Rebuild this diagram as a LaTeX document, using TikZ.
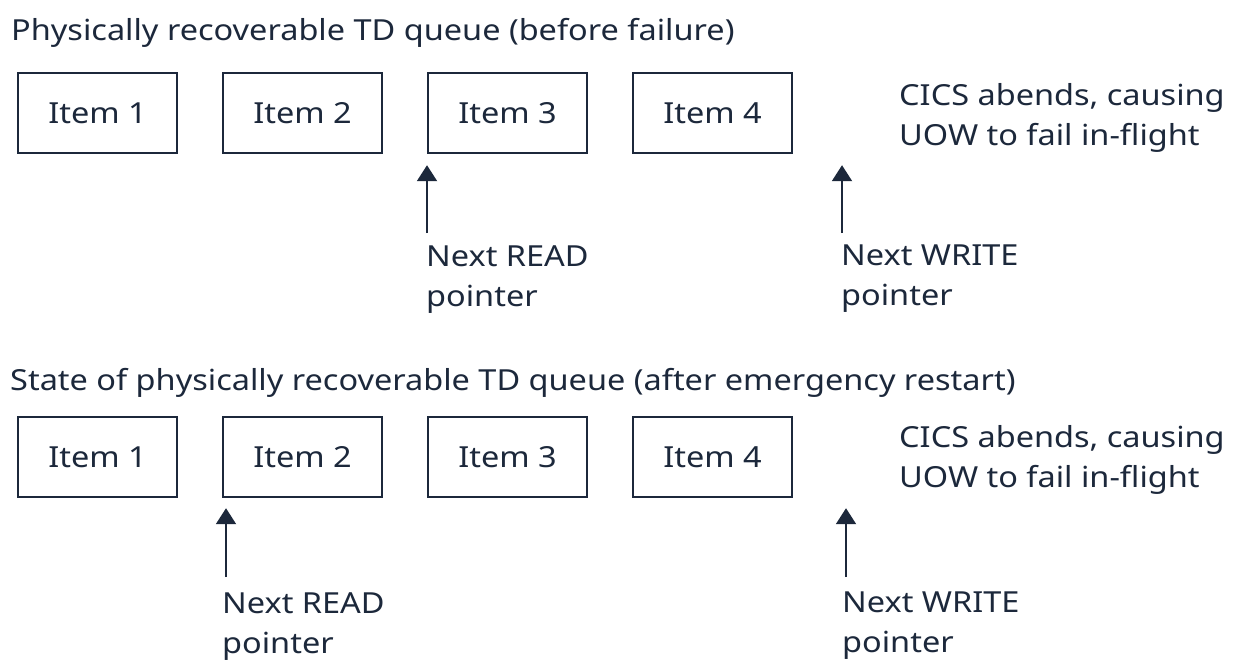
\documentclass[tikz,border=0pt]{standalone}
\usepackage{fontspec}
\setmainfont[FakeStretch=1.12]{Noto Sans}
\usetikzlibrary{arrows.meta,positioning}
\definecolor{ink}{RGB}{28,40,59}

\begin{document}
\begin{tikzpicture}[x=1pt,y=-1pt,
  item/.style={draw=ink,line width=2.4pt,minimum width=159pt,minimum height=80pt,text=ink,font=\fontsize{29}{40}\selectfont},
  note/.style={anchor=north west,inner sep=0pt,align=left,text=ink,font=\fontsize{29}{40}\selectfont},
  heading/.style={anchor=north west,inner sep=0pt,text=ink,font=\fontsize{29}{40}\selectfont},
  ptr/.style={draw=ink,line width=2pt,-{Triangle[width=20pt,length=16pt]},shorten <=12pt,shorten >=11pt}]

\useasboundingbox (0,0) rectangle (1246,662);

% before failure
\node[heading] (head1) at (11,18) {Physically recoverable TD queue (before failure)};

\foreach \x in {1,...,4}
{
  \node[item] (top\x) at ({97.5+205*(\x-1)}, 113) {Item \x};
}

\node[note] (crash1) at (899,83) {CICS abends, causing\\UOW to fail in-flight};
\node[note] (read1) at (426,245) {Next READ\\pointer};
\node[note] (write1) at (841,245) {Next WRITE\\pointer};

\draw[ptr] ([xshift=1pt]read1.north west) -- ([xshift=1pt]read1.north west |- top3.south);
\draw[ptr] ([xshift=1pt]write1.north west) -- ([xshift=1pt]write1.north west |- top4.south);

% after emergency restart
\node[heading] (head2) at (10,368) {State of physically recoverable TD queue (after emergency restart)};

\foreach \x in {1,...,4}
{
  \node[item] (bot\x) at ({97.5+205*(\x-1)}, 457) {Item \x};
}

\node[note] (crash2) at (899,425) {CICS abends, causing\\UOW to fail in-flight};
\node[note] (read2) at (222,592) {Next READ\\pointer};
\node[note] (write2) at (842,592) {Next WRITE\\pointer};

\draw[ptr,shorten <=15pt,shorten >=10pt] ([xshift=4pt]read2.north west) -- ([xshift=4pt]read2.north west |- bot2.south);
\draw[ptr,shorten <=15pt,shorten >=10pt] ([xshift=4pt]write2.north west) -- ([xshift=4pt]write2.north west |- bot4.south);

\end{tikzpicture}
\end{document}
